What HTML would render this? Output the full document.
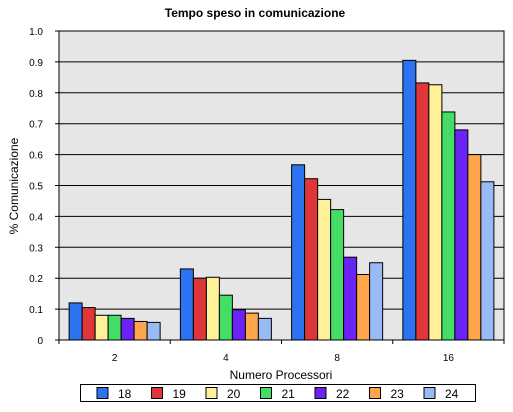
<!DOCTYPE html>
<html><head><meta charset="utf-8"><style>
body{margin:0;background:#fff;}
svg{display:block;font-family:"Liberation Sans",sans-serif;}
</style></head><body>
<svg id="chart" width="513" height="412">
<text x="255" y="17" text-anchor="middle" font-size="12" font-weight="bold">Tempo speso in comunicazione</text>
<text transform="translate(18,186) rotate(-90)" text-anchor="middle" font-size="12">% Comunicazione</text>
<text x="281" y="379" text-anchor="middle" font-size="12">Numero Processori</text>
</svg>
<script>
const categories = ["2","4","8","16"];
const seriesNames = ["18","19","20","21","22","23","24"];
const colors = ["#2b73f0","#e0363a","#fff199","#44dd66","#6b22f5","#ffa64d","#99bbf5"];
const s18 = [0.12,0.23,0.567,0.905];
const s19 = [0.105,0.2,0.522,0.832];
const s20 = [0.08,0.203,0.455,0.826];
const s21 = [0.08,0.145,0.422,0.738];
const s22 = [0.07,0.098,0.268,0.68];
const s23 = [0.06,0.087,0.212,0.6];
const s24 = [0.057,0.07,0.25,0.512];
const series = [s18,s19,s20,s21,s22,s23,s24];
const yTicks = [0,0.1,0.2,0.3,0.4,0.5,0.6,0.7,0.8,0.9,1.0];
const tickLabels = ["0","0.1","0.2","0.3","0.4","0.5","0.6","0.7","0.8","0.9","1.0"];

const svg = document.getElementById('chart');
const NS = 'http://www.w3.org/2000/svg';
const L=59,R=504,T=31,B=340;
const y = v => B - v*(B-T);
const bandW = (R-L)/categories.length;
const x = i => L + i*bandW;
function mk(tag, attrs){const e=document.createElementNS(NS,tag);for(const k in attrs)e.setAttribute(k,attrs[k]);svg.appendChild(e);return e;}

const bg = mk('rect',{x:L,y:T,width:R-L,height:B-T,fill:'#e6e6e6'});


yTicks.forEach((t,i)=>{
  const g = mk('line',{x1:L-4,x2:R,y1:y(t),y2:y(t),stroke:'#000','stroke-width':1});
  
  
  const tx = mk('text',{x:L-16,y:y(t)+4,'text-anchor':'end','font-size':10});
  tx.textContent = tickLabels[i];
  
  
});
const bw = 13;
categories.forEach((c,ci)=>{
  const start = x(ci) + (bandW - bw*series.length)/2;
  series.forEach((s,si)=>{
    const r = mk('rect',{x:start+si*bw,y:y(s[ci]),width:bw,height:B-y(s[ci]),fill:colors[si],stroke:'#000','stroke-width':1});
    
    
  });
  const tl = mk('text',{x:x(ci)+bandW/2,y:361,'text-anchor':'middle','font-size':10});
  tl.textContent = c;
  
  
});
for(let i=0;i<=categories.length;i++){
  const tk = mk('line',{x1:x(i),x2:x(i),y1:B,y2:B+4,stroke:'#000'});
  
  
}
const frame = mk('polyline',{points:`${L},${T} ${R},${T} ${R},${B}`,fill:'none',stroke:'#000'});


const ax = mk('line',{x1:L,x2:L,y1:T,y2:B,stroke:'#000'});


const ax2 = mk('line',{x1:L,x2:R,y1:B,y2:B,stroke:'#000'});



const lg = mk('rect',{x:80.5,y:384.5,width:395,height:17,fill:'#fff',stroke:'#000'});


seriesNames.forEach((n,i)=>{
  const lx = 97 + i*54.5;
  const sw = mk('rect',{x:lx,y:387.5,width:11,height:11,fill:colors[i],stroke:'#000'});
  
  
  const lt = mk('text',{x:lx+21,y:398,'font-size':12});
  lt.textContent = n;
  
  
});
</script>
</body></html>
